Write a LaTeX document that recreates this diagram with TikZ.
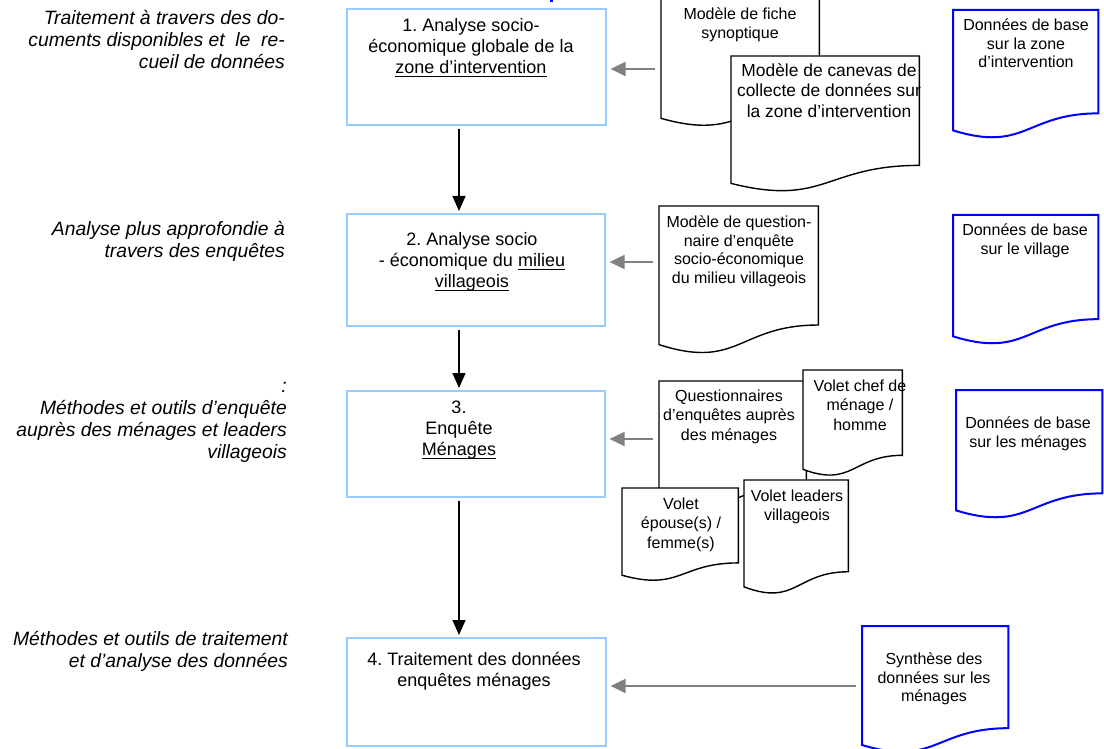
\documentclass[tikz,border=0pt]{standalone}
\usepackage{fontspec}
\setmainfont{Liberation Sans}
\usetikzlibrary{arrows.meta,calc}
\definecolor{boxblue}{RGB}{153,204,255}
\definecolor{docblue}{RGB}{0,0,255}
\definecolor{arrowgray}{RGB}{128,128,128}
\frenchspacing
\newsavebox\ulbox
\newcommand{\ulin}[1]{\sbox\ulbox{#1}\rlap{\rule[-3.4pt]{\wd\ulbox}{1.1pt}}\usebox\ulbox}
\newcommand{\docpath}[2]{%
  \path[#2] let \p1=(#1.north west), \p2=(#1.south east) in
   (\x1,\y1) -- (\x2,\y1) -- (\x2,{\y1+0.802*(\y2-\y1)})
   .. controls ({0.5*\x1+0.5*\x2},{\y1+0.802*(\y2-\y1)}) and ({0.5*\x1+0.5*\x2},{\y1+1.1075*(\y2-\y1)}) .. (\x1,{\y1+0.934*(\y2-\y1)}) -- cycle;}
\begin{document}
\begin{tikzpicture}[x=1pt,y=-1pt,
  stepbox/.style={draw=boxblue, line width=1.6pt, rectangle, inner sep=0pt, anchor=north west},
  docframe/.style={rectangle, inner sep=0pt, anchor=north west},
  blackdoc/.style={draw=black, fill=white, line width=1.4pt},
  bluedoc/.style={draw=docblue, fill=white, line width=2pt},
  lefttext/.style={font=\fontsize{19.3}{22}\selectfont\itshape, align=right, anchor=north east, inner sep=0pt},
  boxtext/.style={font=\fontsize{18}{21}\selectfont, align=center, anchor=north, inner sep=0pt},
  doctext/.style={font=\fontsize{16}{18.6}\selectfont, align=center, anchor=north, inner sep=0pt},
  doctextb/.style={font=\fontsize{17.4}{20.2}\selectfont, align=center, anchor=north, inner sep=0pt},
  doctextc/.style={font=\fontsize{16}{19.5}\selectfont, align=center, anchor=north, inner sep=0pt},
  garrow/.style={draw=arrowgray, line width=2pt, -{Triangle[length=15pt,width=14pt]}, shorten <=6pt, shorten >=4pt},
  barrow/.style={draw=black, line width=1.5pt, -{Triangle[length=15pt,width=13pt]}, shorten <=3pt, shorten >=2pt}
]
\useasboundingbox (0,0) rectangle (1104,749);

% small fragment at the top edge
\fill[docblue] (550,0) rectangle (553,2);

% left descriptions
\node[lefttext] (l1) at (285,9.2) {\strut Traitement à travers des do-\\cuments disponibles et\ \ le\ \ re-\\cueil de données};
\node[lefttext] (l2) at (285,220.2) {\strut Analyse plus approfondie à\\travers des enquêtes};
\node[lefttext] (l3) at (287,377.2) {\strut :\\Méthodes et outils d’enquête\\auprès des ménages et leaders\\villageois};
\node[lefttext] (l4) at (288,630.2) {\strut Méthodes et outils de traitement\\et d’analyse des données};

% step boxes
\node[stepbox, minimum width=259pt, minimum height=116pt] (b1) at (346,8) {};
\node[stepbox, minimum width=258pt, minimum height=112pt] (b2) at (346,213) {};
\node[stepbox, minimum width=258pt, minimum height=106pt] (b3) at (346,390) {};
\node[stepbox, minimum width=259pt, minimum height=108pt] (b4) at (346,637) {};

\node[boxtext] (b1t) at (471,16.9) {\strut 1. Analyse socio-\\économique globale de la\\\ulin{zone d’intervention}};
\node[boxtext] (b2t) at (472,230.4) {\strut 2. Analyse socio\\- économique du \ulin{milieu}\\\ulin{villageois}};
\node[boxtext] (b3t) at (459,398.4) {\strut 3.\\Enquête\\\ulin{Ménages}};
\node[boxtext] (b4t) at (474,650.4) {\strut 4. Traitement des données\\enquêtes ménages};

% document frames
\node[docframe, minimum width=158pt, minimum height=129.5pt] (dA) at (661,-3) {};
\node[docframe, minimum width=188pt, minimum height=136pt] (dB) at (731,56) {};
\node[docframe, minimum width=159pt, minimum height=148pt] (dC) at (659,206) {};
\node[docframe, minimum width=145pt, minimum height=128.5pt] (u1) at (953,10) {};
\node[docframe, minimum width=145pt, minimum height=129.5pt] (u2) at (953,215) {};
\node[docframe, minimum width=146pt, minimum height=128.5pt] (u3) at (956,390) {};
\node[docframe, minimum width=146pt, minimum height=127pt] (u4) at (862,626) {};
\node[docframe, minimum width=147pt, minimum height=127pt] (q) at (659,381) {};
\node[docframe, minimum width=99pt, minimum height=106pt] (vc) at (803,370) {};
\node[docframe, minimum width=116pt, minimum height=93pt] (ve) at (622,488) {};
\node[docframe, minimum width=104pt, minimum height=114pt] (vl) at (744,480) {};

\docpath{dA}{blackdoc}
\node[doctext] (dAt) at (740,6.5) {\strut Modèle de fiche\\synoptique};
\docpath{dB}{blackdoc}
\node[doctextb] (dBt) at (829,62.3) {\strut Modèle de canevas de\\collecte de données sur\\la zone d’intervention};
\docpath{dC}{blackdoc}
\node[doctext] (dCt) at (739,214.5) {\strut Modèle de question-\\naire d’enquête\\socio-économique\\du milieu villageois};

\docpath{u1}{bluedoc}
\node[doctext] (u1t) at (1026,17.5) {\strut Données de base\\sur la zone\\d’intervention};
\docpath{u2}{bluedoc}
\node[doctext] (u2t) at (1025,222.5) {\strut Données de base\\sur le village};
\docpath{u3}{bluedoc}
\node[doctext] (u3t) at (1028,415.5) {\strut Données de base\\sur les ménages};
\docpath{u4}{bluedoc}
\node[doctext] (u4t) at (934,651.5) {\strut Synthèse des\\données sur les\\ménages};

\docpath{q}{blackdoc}
\node[doctextc] (qt) at (729,387.5) {\strut Questionnaires\\d’enquêtes auprès\\des\ ménages};
\docpath{vc}{blackdoc}
\node[doctextc] (vct) at (860,377.5) {\strut Volet chef de\\ménage /\\homme};
\docpath{ve}{blackdoc}
\node[doctextc] (vet) at (681,495.5) {\strut Volet\\épouse(s) /\\femme(s)};
\docpath{vl}{blackdoc}
\node[doctextc] (vlt) at (797,487.5) {\strut Volet leaders\\villageois};

% gray arrows
\coordinate (g1) at (0,69);
\coordinate (g2) at (0,262);
\coordinate (g3) at (0,439);
\coordinate (g4) at (0,686);
\draw[garrow] (dA.west |- g1) -- (b1.east |- g1);
\draw[garrow] (dC.west |- g2) -- (b2.east |- g2);
\draw[garrow] (q.west |- g3) -- (b3.east |- g3);
\draw[garrow] (u4.west |- g4) -- (b4.east |- g4);

% black arrows
\coordinate (ax) at (459,0);
\draw[barrow] (b1.south -| ax) -- (b2.north -| ax);
\draw[barrow] (b2.south -| ax) -- (b3.north -| ax);
\draw[barrow] (b3.south -| ax) -- (b4.north -| ax);
\end{tikzpicture}
\end{document}
